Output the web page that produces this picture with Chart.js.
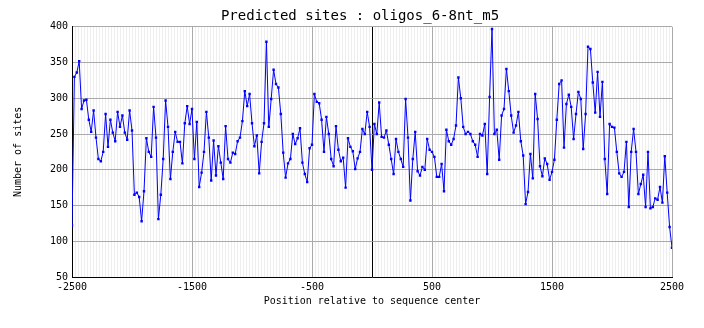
<!DOCTYPE html>
<html>
<head>
<meta charset="utf-8">
<title>Predicted sites : oligos_6-8nt_m5</title>
<script src="https://cdn.jsdelivr.net/npm/chart.js@4.4.1/dist/chart.umd.min.js"></script>
<style>
  html, body { margin: 0; padding: 0; background: #fff; }
  #chart { display: block; }
</style>
</head>
<body>
<canvas id="chart" width="704" height="328"></canvas>
<script>
// positions run from -2500 to 2500 in windows of 20 bp
const startPos = -2500;
const stepPos = 20;

// number of predicted sites per window
const sites = [
  122, 330, 336, 352, 285, 297, 298, 270, 253, 283,
  245, 215, 212, 225, 278, 232, 270, 252, 240, 281,
  260, 276, 252, 242, 283, 255, 165, 168, 162, 128,
  170, 244, 225, 218, 288, 245, 131, 165, 215, 297,
  260, 187, 225, 253, 239, 239, 209, 265, 289, 264,
  285, 215, 267, 176, 196, 225, 281, 245, 185, 241,
  192, 233, 210, 187, 261, 215, 210, 224, 222, 240,
  245, 268, 310, 289, 306, 265, 233, 248, 195, 239,
  265, 379, 260, 299, 340, 320, 315, 278, 224, 189,
  209, 215, 250, 236, 244, 258, 210, 194, 183, 230,
  235, 306, 295, 293, 270, 225, 274, 250, 215, 205,
  261, 228, 212, 217, 175, 244, 232, 226, 201, 216,
  225, 257, 250, 281, 260, 200, 264, 250, 294, 246,
  245, 255, 235, 215, 194, 243, 225, 215, 204, 299,
  245, 157, 215, 253, 198, 192, 204, 200, 243, 228,
  225, 218, 190, 190, 208, 170, 256, 240, 235, 243,
  262, 329, 300, 260, 250, 253, 250, 240, 235, 218,
  250, 248, 264, 194, 302, 397, 250, 256, 214, 276,
  285, 341, 310, 276, 252, 262, 281, 240, 220, 152,
  169, 222, 188, 306, 271, 205, 191, 216, 208, 186,
  197, 214, 270, 320, 325, 231, 292, 305, 288, 243,
  278, 309, 299, 229, 278, 372, 369, 322, 280, 337,
  274, 323, 215, 166, 264, 260, 259, 225, 195, 190,
  197, 239, 148, 225, 257, 225, 166, 180, 193, 148,
  225, 146, 148, 160, 158, 176, 154, 219, 168, 120,
  91
];

const xTicks = [-2500, -1500, -500, 0, 500, 1500, 2500];
const yTicks = [50, 100, 150, 200, 250, 300, 350, 400];
const centerLine = 0;
const minorStep = 25;

const positions = sites.map((_, i) => startPos + i * stepPos);

const mono = { family: "'DejaVu Sans Mono', monospace", size: 10 };

// faint vertical hatching behind the plot
const minorGrid = {
  id: 'minorGrid',
  beforeDraw(chart) {
    const { ctx, chartArea: a, scales: { x } } = chart;
    ctx.save();
    ctx.strokeStyle = '#eeeeee';
    ctx.lineWidth = 1;
    for (let p = x.min; p <= x.max; p += minorStep) {
      const px = Math.round(x.getPixelForValue(p)) + 0.5;
      ctx.beginPath();
      ctx.moveTo(px, a.top);
      ctx.lineTo(px, a.bottom);
      ctx.stroke();
    }
    ctx.restore();
  }
};

new Chart(document.getElementById('chart'), {
  type: 'line',
  data: {
    datasets: [{
      data: positions.map((p, i) => ({ x: p, y: sites[i] })),
      borderColor: '#0000ff',
      borderWidth: 1,
      pointStyle: 'rect',
      pointRadius: 1.7,
      pointBorderWidth: 0,
      pointBackgroundColor: '#0000ff',
      tension: 0
    }]
  },
  options: {
    responsive: false,
    animation: false,
    devicePixelRatio: 1,
    layout: { padding: { left: 24, right: 8, top: 0, bottom: 0 } },
    plugins: {
      legend: { display: false },
      tooltip: { enabled: false },
      title: {
        display: true,
        text: 'Predicted sites : oligos_6-8nt_m5',
        color: '#000',
        font: { family: mono.family, size: 14, weight: 'normal' },
        padding: { top: 8, bottom: 2 }
      }
    },
    scales: {
      x: {
        type: 'linear',
        min: -2500,
        max: 2500,
        afterBuildTicks: s => { s.ticks = xTicks.map(v => ({ value: v })); },
        afterFit: s => { s.height = 51; },
        ticks: {
          autoSkip: false,
          maxRotation: 0,
          padding: 4,
          color: '#000',
          font: mono,
          callback: v => (v === centerLine ? '' : String(v))
        },
        grid: {
          drawTicks: false,
          color: c => (c.tick && c.tick.value === centerLine ? '#000' : '#aaaaaa')
        },
        border: { color: '#000' },
        title: {
          display: true,
          text: 'Position relative to sequence center',
          color: '#000',
          font: mono,
          padding: { top: 0, bottom: 21 }
        }
      },
      y: {
        min: 50,
        max: 400,
        afterBuildTicks: s => { s.ticks = yTicks.map(v => ({ value: v })); },
        afterFit: s => { s.width = 48; },
        ticks: { padding: 4, color: '#000', font: mono },
        grid: { drawTicks: false, color: '#aaaaaa' },
        border: { color: '#000' },
        title: {
          display: true,
          text: 'Number of sites',
          color: '#000',
          font: mono,
          padding: { top: -12, bottom: 0 }
        }
      },
      // empty right margin so the plot ends at 2500 while the title stays centred
      yRight: {
        position: 'right',
        min: 50,
        max: 400,
        afterFit: s => { s.width = 24; },
        ticks: { display: false },
        grid: { display: false, drawTicks: false },
        border: { display: false }
      }
    }
  },
  plugins: [minorGrid]
});
</script>
</body>
</html>
